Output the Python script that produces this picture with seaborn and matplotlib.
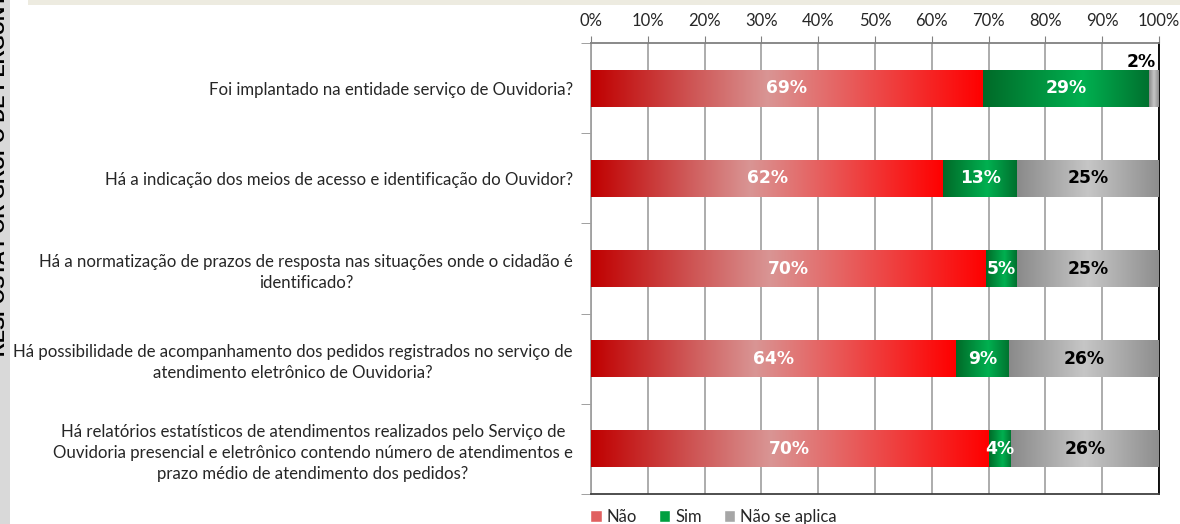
import numpy as np
import pandas as pd
import matplotlib
matplotlib.use("Agg")
import matplotlib.pyplot as plt
import seaborn as sns
from matplotlib.colors import LinearSegmentedColormap
from matplotlib.patches import Patch, Rectangle
from matplotlib.font_manager import FontProperties

# Dados
perguntas = [
    "Foi implantado na entidade serviço de Ouvidoria?",
    "Há a indicação dos meios de acesso e identificação do Ouvidor?",
    "Há a normatização de prazos de resposta nas situações onde o cidadão é\nidentificado?",
    "Há possibilidade de acompanhamento dos pedidos registrados no serviço de\natendimento eletrônico de Ouvidoria?",
    "Há relatórios estatísticos de atendimentos realizados pelo Serviço de\nOuvidoria presencial e eletrônico contendo número de atendimentos e\nprazo médio de atendimento dos pedidos?",
]
nao = [69.0, 62.0, 69.6, 64.2, 70.0]
sim = [29.3, 13.0, 5.4, 9.4, 4.0]
nao_se_aplica = [1.7, 25.0, 25.0, 26.4, 26.0]
series = ["Não", "Sim", "Não se aplica"]

df = pd.DataFrame({"Pergunta": perguntas, "Não": nao, "Sim": sim,
                   "Não se aplica": nao_se_aplica})
df["c1"] = df["Não"]
df["c2"] = df["Não"] + df["Sim"]
df["c3"] = df["c2"] + df["Não se aplica"]

sns.set_style("white")
plt.rcParams["font.family"] = ["Lato", "DejaVu Sans"]

fig = plt.figure(figsize=(11.8, 5.24), dpi=100)
ax = fig.add_axes([591 / 1180, 1 - 494 / 524, 568 / 1180, 451 / 524])

# barras empilhadas (camadas acumuladas)
largura = 0.41
for col in ["c3", "c2", "c1"]:
    sns.barplot(data=df, y="Pergunta", x=col, orient="h", width=largura,
                color="#cccccc", ax=ax)

gradientes = {
    "Não": ([0, 0.45, 1], ["#C00000", "#D99594", "#FF0000"]),
    "Sim": ([0, 0.6, 1], ["#006A28", "#00B050", "#00702E"]),
    "Não se aplica": ([0, 0.5, 1], ["#8A8A8A", "#C6C6C6", "#8E8E8E"]),
}

for p in ax.patches:
    p.set_visible(False)

fp_rot = FontProperties(family="DejaVu Sans", weight="bold", size=12.3)
grad = np.linspace(0, 1, 256)[None, :]
for i in range(len(perguntas)):
    esq = 0
    for s in series:
        v = df.loc[i, s]
        stops, cores = gradientes[s]
        cmap = LinearSegmentedColormap.from_list(s, list(zip(stops, cores)))
        ax.imshow(grad, extent=[esq, esq + v, i + largura / 2, i - largura / 2],
                  aspect="auto", cmap=cmap, zorder=3, interpolation="bilinear")
        txt = f"{v:.0f}%"
        if s == "Não se aplica" and v < 5:
            ax.text(esq + v / 2 + 0.3, i - largura / 2 + 0.01, txt, ha="right",
                    va="bottom", fontproperties=fp_rot, color="black", zorder=4)
        else:
            ax.text(esq + v / 2, i, txt, ha="center", va="center",
                    fontproperties=fp_rot,
                    color="black" if s == "Não se aplica" else "white", zorder=4)
        esq += v

ax.set_xlim(0, 100)
ax.set_ylim(len(perguntas) - 0.5, -0.5)
ax.set_xlabel("")
ax.set_ylabel("")

ax.xaxis.tick_top()
ax.set_xticks(np.arange(0, 101, 10))
ax.set_xticklabels([f"{t}%" for t in range(0, 101, 10)], fontsize=12)
ax.tick_params(axis="x", length=5, color="#808080", pad=5, top=True, bottom=False)
ax.grid(axis="x", color="#A6A6A6", linewidth=1.3, zorder=0)
ax.set_axisbelow(True)

ax.set_yticks(range(len(perguntas)))
ax.set_yticklabels(perguntas, fontsize=12.1, multialignment="center",
                   linespacing=1.4)
ax.set_yticks(np.arange(-0.5, len(perguntas), 1), minor=True)
ax.tick_params(axis="y", which="major", length=0, pad=13)
ax.tick_params(axis="y", which="minor", length=7, color="#909090", left=True)

for lado, cor in [("left", "#A0A0A0"), ("top", "#808080"),
                  ("right", "#000000"), ("bottom", "#404040")]:
    ax.spines[lado].set_visible(True)
    ax.spines[lado].set_color(cor)
    ax.spines[lado].set_linewidth(1.3)

# legenda
handles = [Patch(facecolor="#E06060", label="Não"),
           Patch(facecolor="#00A040", label="Sim"),
           Patch(facecolor="#A6A6A6", label="Não se aplica")]
fig.legend(handles=handles, loc="lower left", bbox_to_anchor=(575 / 1180, -0.03),
           ncol=3, frameon=False, fontsize=12, handlelength=0.7, handleheight=0.7,
           handletextpad=0.3, columnspacing=1.3)

# faixas decorativas
fig.patches.append(Rectangle((0, 0), 10 / 1180, 1, transform=fig.transFigure,
                             facecolor="#D9D9D9", edgecolor="none", zorder=0))
fig.patches.append(Rectangle((28 / 1180, 1 - 5 / 524), 1, 5 / 524,
                             transform=fig.transFigure, facecolor="#EDEBE0",
                             edgecolor="none", zorder=0))
fig.text(1 / 1180, 1 - 356 / 524, "RESPOSTA POR GRUPO DE PERGUNTAS", rotation=90,
         ha="center", va="bottom", fontsize=14, fontweight="bold",
         family="Liberation Sans", color="black")

fig.savefig("out.png", dpi=100)
